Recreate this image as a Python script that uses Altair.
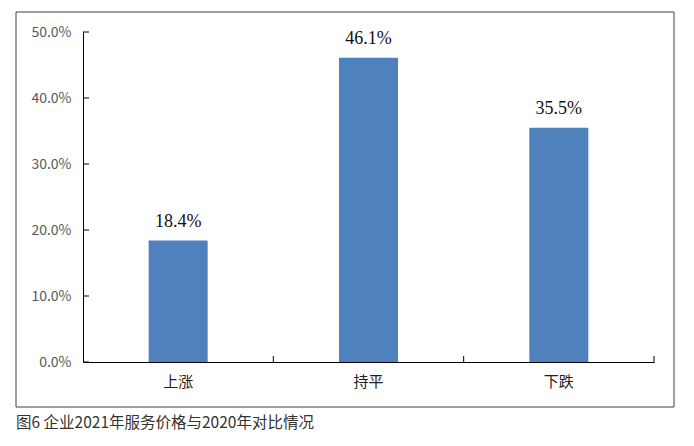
import altair as alt
import pandas as pd

categories = ["上涨", "持平", "下跌"]
values = [18.4, 46.1, 35.5]
value_labels = ["18.4%", "46.1%", "35.5%"]
y_ticks = [0, 10, 20, 30, 40, 50]
caption = "图6 企业2021年服务价格与2020年对比情况"

df = pd.DataFrame({"cat": categories, "val": values, "lbl": value_labels})
tick_df = pd.DataFrame({"t": y_ticks})

W, H = 571, 330
SANS = "Noto Sans CJK SC"

x_enc = alt.X(
    "cat:N",
    sort=categories,
    scale=alt.Scale(paddingInner=0, paddingOuter=0),
    axis=alt.Axis(
        title="", labelAngle=0, labelFont=SANS, labelFontSize=15, labelColor="#222222",
        labelPadding=12, ticks=False, domainColor="#000000", domainWidth=1, grid=False,
    ),
)
y_enc = alt.Y(
    "val:Q",
    scale=alt.Scale(domain=[0, 50], nice=False),
    axis=alt.Axis(
        title="", values=y_ticks, labelExpr="format(datum.value, '.1f') + '%'",
        labelFont=SANS, labelFontSize=14, labelColor="#595959", labelPadding=12,
        ticks=False, domainColor="#000000", domainWidth=1, grid=False,
    ),
)

frame = alt.Chart(alt.Data(values=[{"a": 1}])).mark_rect(
    fillOpacity=0, stroke="#404040", strokeWidth=1
).encode(x=alt.value(-67), x2=alt.value(591), y=alt.value(-20), y2=alt.value(375))

bars = alt.Chart(df).mark_bar(size=59, color="#4F81BD").encode(x=x_enc, y=y_enc)

labels = alt.Chart(df).mark_text(
    font="Liberation Serif", fontSize=18, color="#111111", baseline="alphabetic", dy=-14
).encode(x=alt.X("cat:N", sort=categories), y=alt.Y("val:Q"), text="lbl:N")

yticks = alt.Chart(tick_df).mark_rule(color="#000000", strokeWidth=1).encode(
    y=alt.Y("t:Q"), x=alt.value(0), x2=alt.value(6)
)

xticks = alt.Chart(df).mark_rule(color="#000000", strokeWidth=1).encode(
    x=alt.X("cat:N", sort=categories, bandPosition=1), y=alt.value(H - 6), y2=alt.value(H)
)

cap = alt.Chart(alt.Data(values=[{"c": caption}])).mark_text(
    font=SANS, fontSize=15.5, color="#333333", align="left", baseline="middle"
).encode(x=alt.value(-67), y=alt.value(391), text="c:N")

chart = alt.layer(frame, bars, labels, yticks, xticks, cap).properties(
    width=W, height=H,
    autosize=alt.AutoSizeParams(type="none"),
    padding={"left": 75, "top": 24, "right": 30, "bottom": 70},
).configure_view(strokeWidth=0)

chart.save("out.html", embed_options={"renderer": "svg", "actions": False})
